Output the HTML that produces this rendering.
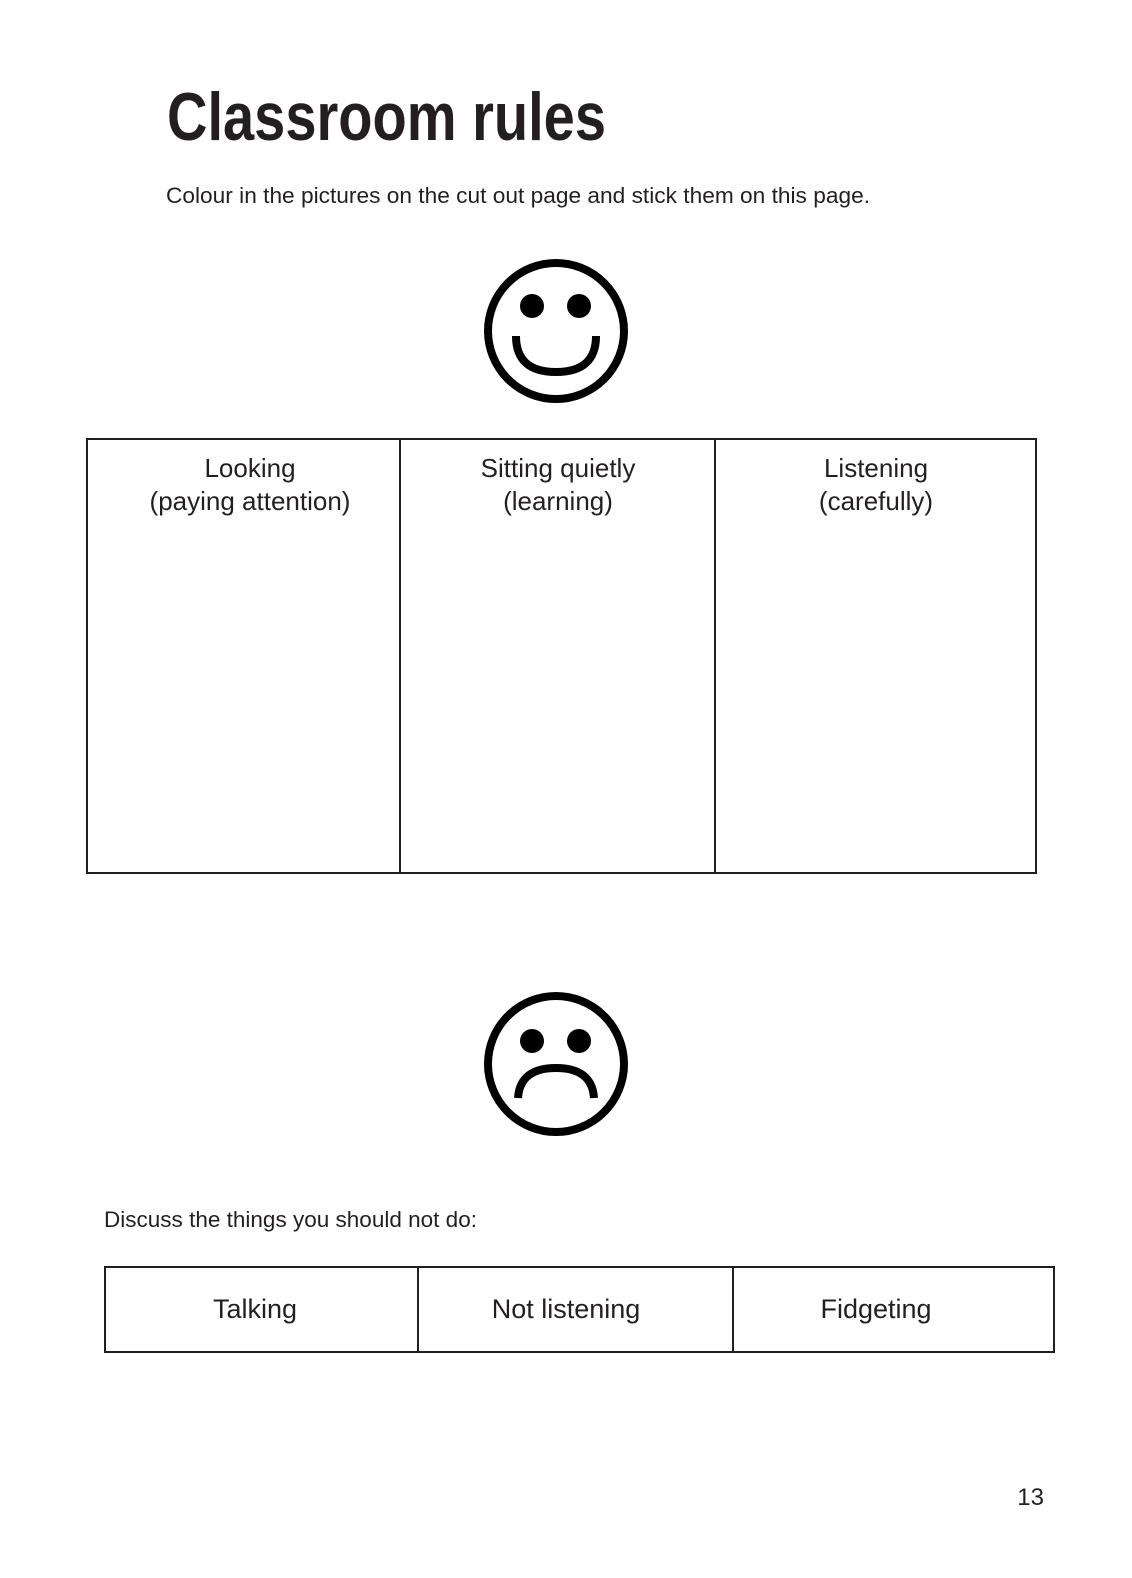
<!DOCTYPE html>
<html><head><meta charset="utf-8"><style>html,body{margin:0;padding:0;background:#fff}svg{display:block}</style></head>
<body>
<svg width="1132" height="1578" viewBox="0 0 1132 1578" xmlns="http://www.w3.org/2000/svg" font-family="Liberation Sans, sans-serif" fill="#231f20">
<text x="167" y="140" font-size="68" font-weight="bold" textLength="439" lengthAdjust="spacingAndGlyphs">Classroom rules</text>
<text x="166" y="203" font-size="22" textLength="704" lengthAdjust="spacingAndGlyphs">Colour in the pictures on the cut out page and stick them on this page.</text>
<!-- smiley -->
<circle cx="556" cy="331" r="68" fill="none" stroke="#000" stroke-width="8"/>
<circle cx="532" cy="306" r="12" fill="#000"/>
<circle cx="579" cy="306" r="12" fill="#000"/>
<path d="M516 336 Q516 372 556 372 Q596 372 596 336" fill="none" stroke="#000" stroke-width="8"/>
<!-- table 1 -->
<g fill="none" stroke="#231f20" stroke-width="2">
<rect x="87" y="439" width="949" height="434"/>
<line x1="400" y1="439" x2="400" y2="873"/>
<line x1="715" y1="439" x2="715" y2="873"/>
</g>
<g font-size="26" text-anchor="middle">
<text x="250" y="477">Looking</text><text x="250" y="510">(paying attention)</text>
<text x="558" y="477">Sitting quietly</text><text x="558" y="510">(learning)</text>
<text x="876" y="477">Listening</text><text x="876" y="510">(carefully)</text>
</g>
<!-- frown -->
<circle cx="556" cy="1064" r="68" fill="none" stroke="#000" stroke-width="8"/>
<circle cx="532" cy="1041" r="12" fill="#000"/>
<circle cx="579" cy="1041" r="12" fill="#000"/>
<path d="M518 1098 Q520 1068 556 1068 Q592 1068 594 1098" fill="none" stroke="#000" stroke-width="8"/>
<text x="104" y="1227" font-size="22" textLength="373" lengthAdjust="spacingAndGlyphs">Discuss the things you should not do:</text>
<g fill="none" stroke="#231f20" stroke-width="2">
<rect x="105" y="1267" width="949" height="85"/>
<line x1="418" y1="1267" x2="418" y2="1352"/>
<line x1="733" y1="1267" x2="733" y2="1352"/>
</g>
<g font-size="27" text-anchor="middle">
<text x="255" y="1318">Talking</text>
<text x="566" y="1318">Not listening</text>
<text x="876" y="1318">Fidgeting</text>
</g>
<text x="1044" y="1505" font-size="24" text-anchor="end">13</text>
</svg>
</body></html>
